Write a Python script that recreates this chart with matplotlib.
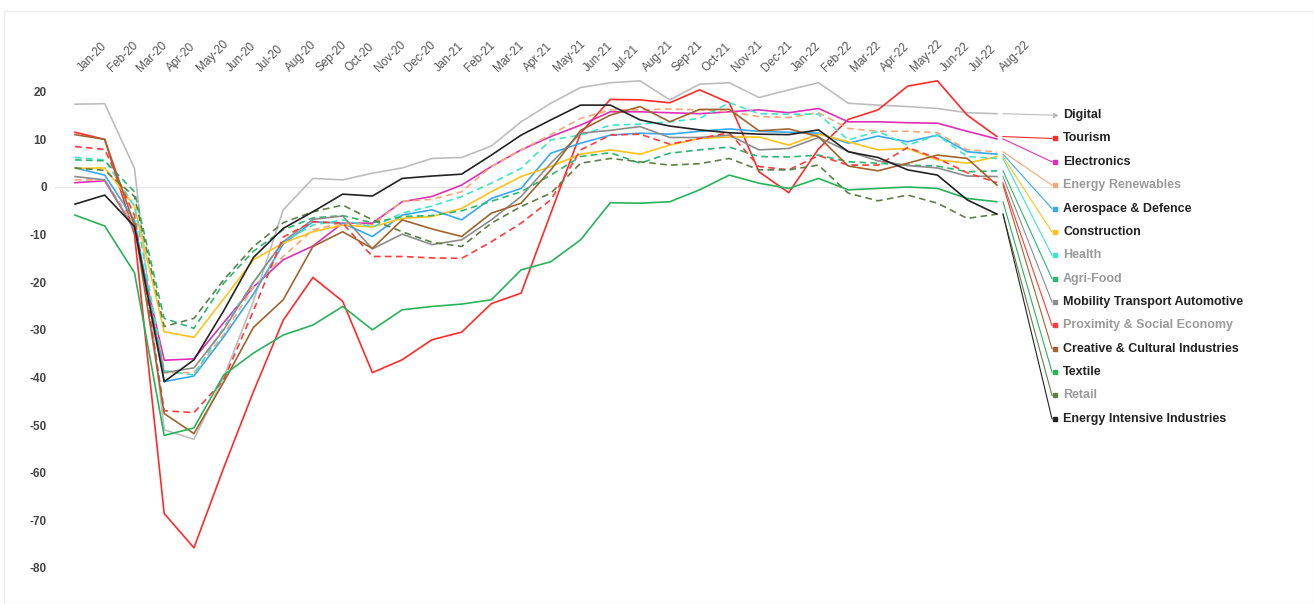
import numpy as np
import matplotlib
matplotlib.use("Agg")
import matplotlib.pyplot as plt
from matplotlib.patches import Rectangle
from matplotlib.transforms import ScaledTranslation

plt.rcParams["font.family"] = ["Liberation Sans", "DejaVu Sans"]
plt.rcParams["axes.unicode_minus"] = False

# Months shown along the top
months = [
    "Jan-20", "Feb-20", "Mar-20", "Apr-20", "May-20", "Jun-20", "Jul-20", "Aug-20",
    "Sep-20", "Oct-20", "Nov-20", "Dec-20", "Jan-21", "Feb-21", "Mar-21", "Apr-21",
    "May-21", "Jun-21", "Jul-21", "Aug-21", "Sep-21", "Oct-21", "Nov-21", "Dec-21",
    "Jan-22", "Feb-22", "Mar-22", "Apr-22", "May-22", "Jun-22", "Jul-22", "Aug-22",
]

# Values per ecosystem
digital = [17.4, 17.5, 3.9, -51.0, -53.0, -40.0, -24.0, -4.8, 1.8, 1.5, 2.9, 4.0,
           6.0, 6.2, 8.6, 13.7, 17.6, 20.9, 21.9, 22.3, 18.3, 21.6, 21.9, 18.8,
           20.4, 21.9, 17.6, 17.2, 16.9, 16.5, 15.6, 15.4]
tourism = [11.5, 10.0, -10.0, -68.6, -75.8, -59.0, -43.0, -28.0, -19.0, -24.0, -39.0, -36.3,
           -32.1, -30.5, -24.5, -22.3, -5.5, 11.3, 18.4, 18.3, 17.7, 20.4, 17.7, 3.2,
           -1.2, 8.0, 14.2, 16.2, 21.2, 22.3, 15.1, 10.6]
electronics = [0.9, 1.3, -9.0, -36.4, -36.1, -28.5, -21.0, -15.3, -12.4, -7.6, -7.6, -3.1,
               -2.0, 0.4, 4.3, 7.8, 10.6, 13.0, 15.8, 15.8, 15.6, 15.4, 15.8, 16.2,
               15.6, 16.5, 13.7, 13.7, 13.5, 13.4, 11.7, 10.1]
renewables = [1.5, 1.5, -8.0, -39.0, -39.0, -31.0, -21.0, -14.6, -9.0, -7.5, -8.0, -3.0,
              -2.6, -1.0, 4.3, 7.8, 11.0, 14.4, 16.2, 16.2, 16.4, 16.2, 15.8, 14.8,
              14.6, 15.6, 12.3, 11.7, 11.7, 11.4, 7.8, 7.4]
aerospace = [4.0, 2.5, -7.0, -40.9, -39.7, -31.5, -22.5, -12.0, -7.3, -7.6, -10.4, -5.9,
             -4.8, -6.9, -2.4, -0.3, 7.1, 9.2, 10.9, 11.3, 11.1, 11.7, 12.2, 11.7,
             11.5, 11.3, 9.2, 10.7, 9.5, 10.9, 7.4, 6.9]
construction = [3.9, 4.0, -4.0, -30.4, -31.6, -23.5, -15.3, -11.8, -9.4, -8.0, -8.4, -6.6,
                -6.2, -4.5, -1.0, 2.2, 4.3, 6.9, 7.8, 6.9, 8.8, 10.2, 10.5, 10.5,
                8.8, 11.1, 9.5, 7.8, 8.1, 5.7, 5.0, 6.4]
health = [6.2, 5.7, -4.0, -38.6, -39.5, -29.5, -20.0, -11.5, -8.0, -6.9, -8.4, -5.5,
          -4.0, -2.0, 0.8, 3.9, 9.9, 10.9, 13.0, 13.2, 13.7, 14.4, 17.7, 15.4,
          15.3, 15.3, 9.9, 11.7, 8.8, 10.9, 6.4, 6.0]
agrifood = [5.7, 5.5, -1.0, -27.6, -29.7, -20.2, -13.5, -9.0, -6.5, -6.0, -7.5, -6.2,
            -6.0, -5.0, -3.0, -1.0, 2.5, 6.4, 7.2, 5.0, 7.1, 7.8, 8.4, 6.4,
            6.3, 6.7, 5.3, 5.0, 4.6, 4.4, 3.2, 3.4]
mobility = [2.2, 1.5, -9.0, -39.0, -38.0, -30.0, -20.0, -11.5, -6.8, -6.1, -13.0, -9.9,
            -12.1, -11.1, -6.9, -2.0, 5.0, 11.3, 11.9, 12.7, 10.4, 10.4, 10.9, 7.8,
            8.1, 10.4, 7.5, 5.5, 4.5, 4.0, 2.3, 2.2]
proximity = [8.5, 7.9, -6.0, -47.0, -47.4, -40.5, -26.0, -10.5, -7.3, -7.6, -14.6, -14.6,
             -14.9, -15.0, -11.5, -7.6, -2.7, 7.8, 10.9, 11.1, 9.0, 10.2, 11.4, 4.3,
             3.6, 6.6, 4.6, 4.6, 8.3, 6.0, 3.0, 0.9]
creative = [11.0, 10.0, -8.0, -47.6, -51.8, -41.0, -29.5, -23.7, -12.5, -9.4, -12.9, -6.9,
            -8.8, -10.4, -5.5, -3.4, 3.6, 11.9, 15.1, 16.9, 13.7, 16.3, 16.3, 11.8,
            12.2, 10.6, 4.4, 3.4, 5.0, 6.7, 6.0, 0.4]
textile = [-5.9, -8.2, -18.0, -52.2, -50.6, -39.5, -34.9, -31.1, -29.0, -25.1, -30.0, -25.8,
           -25.1, -24.6, -23.7, -17.4, -15.7, -11.1, -3.3, -3.4, -3.1, -0.6, 2.5, 0.8,
           -0.3, 1.8, -0.6, -0.3, 0.0, -0.3, -2.4, -3.1]
retail = [4.0, 3.5, -2.0, -29.3, -27.6, -19.5, -12.5, -7.5, -5.2, -3.8, -6.9, -9.4,
          -11.6, -12.5, -7.6, -4.1, -1.3, 5.0, 6.0, 5.3, 4.6, 4.9, 6.0, 3.6,
          3.6, 4.6, -1.3, -2.9, -1.7, -3.4, -6.6, -5.7]
intensive = [-3.6, -1.7, -8.3, -40.9, -36.3, -26.0, -14.8, -8.7, -5.2, -1.5, -1.9, 1.8,
             2.3, 2.7, 6.7, 10.9, 14.1, 17.2, 17.2, 14.1, 12.8, 12.0, 11.4, 11.1,
             11.0, 12.0, 7.4, 6.2, 3.6, 2.5, -2.7, -5.7]

names = ["Digital", "Tourism", "Electronics", "Energy Renewables", "Aerospace & Defence",
         "Construction", "Health", "Agri-Food", "Mobility Transport Automotive",
         "Proximity & Social Economy", "Creative & Cultural Industries", "Textile",
         "Retail", "Energy Intensive Industries"]
series = [digital, tourism, electronics, renewables, aerospace, construction, health,
          agrifood, mobility, proximity, creative, textile, retail, intensive]
colors = ["#bdbdbd", "#ff2a2a", "#e02fb5", "#f5a878", "#36a9f0", "#ffc21a", "#3de6c6",
          "#2bb673", "#8c8c8c", "#ff3b3b", "#a0632e", "#27b35a", "#5e7f45", "#222222"]
dashed = [False, False, False, True, False, False, True,
          True, False, True, False, False, True, False]

fig = plt.figure(figsize=(13.14, 6.04), dpi=100)
W, H = 1314, 604
L, R, T, B = 55, 1010, 80, 590
ax = fig.add_axes([L / W, 1 - B / H, (R - L) / W, (B - T) / H])

x = np.arange(len(months))
for vals, c, d in zip(series, colors, dashed):
    ls = (0, (4, 2.6)) if d else "-"
    ax.plot(x, vals, color=c, lw=1.2, linestyle=ls, zorder=3)

# pixel -> data mapping used for limits
x0, dx = 75, 29.74
y0, dy = 187, 4.76
ax.set_xlim((L - x0) / dx, (R - x0) / dx)
ax.set_ylim((y0 - B) / dy, (y0 - T) / dy)

ax.set_yticks(range(-80, 21, 10))
ax.tick_params(axis="y", length=0, pad=6, labelsize=8.5, labelcolor="#444")
for lab in ax.get_yticklabels():
    lab.set_fontweight("bold")

ax.xaxis.tick_top()
ax.set_xticks(x)
ax.set_xticklabels(months, rotation=45, ha="left", va="baseline",
                   rotation_mode="anchor", fontsize=8.5, color="#555")
ax.tick_params(axis="x", length=0, pad=6)
shift = ScaledTranslation(7 / 100, 0, fig.dpi_scale_trans)
for lab in ax.get_xticklabels():
    lab.set_transform(lab.get_transform() + shift)

for s in ax.spines.values():
    s.set_visible(False)

ax.axhline(0, xmin=0, xmax=(1077 - L) / (R - L), color="#e8e8e8", lw=1,
           zorder=1, clip_on=False)

# right-hand labels with connector lines
label_y = np.linspace(15.1, -48.7, len(names))
xs = (1003 - x0) / dx
xe = (1052 - x0) / dx
xm = (1055 - x0) / dx
xt = (1063 - x0) / dx
for i, (name, vals, c, d) in enumerate(zip(names, series, colors, dashed)):
    ax.plot([xs, xe], [vals[-1], label_y[i]], color=c, lw=0.8, clip_on=False, zorder=2)
    mk = ">" if i == 0 else "s"
    ax.plot([xm], [label_y[i]], marker=mk, ms=3, color=c, clip_on=False,
            linestyle="none")
    ax.text(xt, label_y[i], name, fontsize=9, fontweight="bold",
            color="#9a9a9a" if d else "#222", va="center", ha="left", clip_on=False)

fig.patches.append(Rectangle((4 / W, 0), 1 - 4 / W, 1 - 11 / H, transform=fig.transFigure,
                             fill=False, edgecolor="#eeeeee", lw=1))

fig.savefig("out.png", dpi=100, facecolor="white")
